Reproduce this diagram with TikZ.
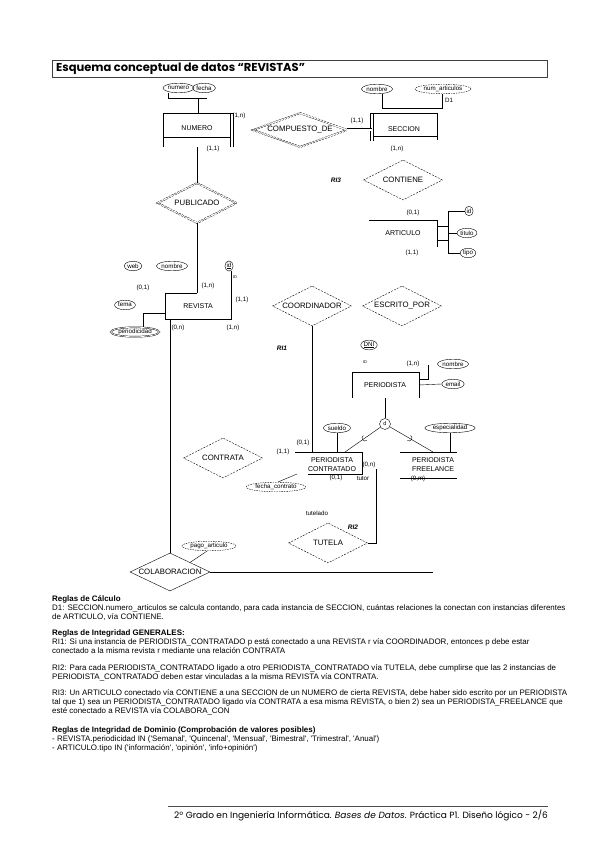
\documentclass[tikz,border=0pt]{standalone}
\usepackage{fontspec}
\setmainfont{Liberation Sans}
\newfontfamily\gothfont{Poppins}
\newfontfamily\arialfont{Liberation Sans}
\usetikzlibrary{positioning,shapes.geometric,calc}

\tikzset{
  ent/.style={font=\arialfont\fontsize{7}{9}\selectfont, align=center, inner sep=0pt},
  rel/.style={diamond, draw, dash pattern=on 2pt off 1.2pt, aspect=2, inner sep=0pt,
    minimum width=79pt, minimum height=40pt, font=\arialfont\fontsize{7.8}{8}\selectfont},
  weakrel/.style={rel, double, double distance=1pt},
  attr/.style={ellipse, draw, inner xsep=0.5pt, inner ysep=0.3pt, minimum height=9.5pt,
    font=\arialfont\fontsize{6.2}{6.2}\selectfont},
  derived/.style={attr, dash pattern=on 1.5pt off 1pt},
  multi/.style={attr, double, double distance=0.7pt},
  card/.style={font=\arialfont\fontsize{6.2}{6.5}\selectfont, inner sep=0pt},
  ri/.style={font=\arialfont\fontsize{6.5}{6.5}\selectfont\bfseries\itshape, inner sep=0pt},
  tag/.style={font=\arialfont\fontsize{4}{4}\selectfont, inner sep=0pt},
  rule/.style={anchor=west, inner sep=0pt, font=\arialfont\fontsize{7.95}{8}\selectfont},
  rulehead/.style={rule, font=\arialfont\fontsize{7.95}{8}\selectfont\bfseries},
}

\begin{document}
\begin{tikzpicture}[x=1pt,y=-1pt]
\useasboundingbox (0,0) rectangle (599,848);

% ============================
% TITLE
% ============================
\draw[black!75] (52,60) rectangle (547,77);
\node[anchor=west, inner sep=0pt, font=\gothfont\bfseries\fontsize{11.5}{12}\selectfont]
  (title) at (56,68.5) {Esquema conceptual de datos “REVISTAS”};

% ============================
% NUMERO / COMPUESTO_DE / SECCION
% ============================
\node[attr] (a-numero) at (178.5,88) {numero};
\node[attr] (a-fecha) at (204,88) {fecha};
\node[ent] (numero) at (197,128) {NUMERO};
\draw (163,147) -- (163,113) -- (233,113);
\draw (163,137) -- (230,137);
\draw (230,113) -- (230,147);
\draw (233,113) -- (233,147);
\draw (168,93) -- (168,98) -- (207,98);
\draw (198,98) -- (198,113);
\node[card] at (239,116) {(1,n)};
\node[card] at (213,149) {(1,1)};

\node[weakrel, aspect=2.8, minimum width=94pt, minimum height=34pt] (compuesto) at (300,130) {COMPUESTO\_DE};
\node[card] at (357,121) {(1,1)};

\node[attr] (a-nombre-s) at (377,89) {nombre};
\node[derived] (a-numart) at (443,89) {num\_articulos};
\node[ent] (seccion) at (404,129) {SECCION};
\coordinate (seccion-left) at (371.5,130);
\draw (370,113) -- (370,141);
\draw (373,113) -- (373,141);
\draw (370,113) -- (437,113) -- (437,140);
\draw (373,136) -- (437,136);
\draw (382,94) -- (382,108) -- (442,108) -- (442,94);
\node[card] at (449,100) {D1};
\node[card] at (397,149) {(1,n)};

\draw[double, double distance=2.2pt] (compuesto.east) -- (seccion-left);

% ============================
% PUBLICADO / CONTIENE / ARTICULO
% ============================
\node[weakrel] (publicado) at (197,203) {PUBLICADO};
\draw (197,147) -- (publicado.north);

\node[rel] (contiene) at (403,180) {CONTIENE};
\node[ri] at (336,180) {RI3};

\node[ent] (articulo) at (403,233) {ARTICULO};
\draw (369,220) -- (437,220) -- (437,247);
\node[card] at (413,213) {(0,1)};
\node[card] at (412,253) {(1,1)};
\node[attr] (a-id-art) at (469,211) {id};
\node[attr] (a-titulo) at (467,233) {titulo};
\node[attr] (a-tipo) at (468,253) {tipo};
\draw (437,226) -- (448,226);
\draw (437,240) -- (448,240);
\draw (a-id-art.west) -| (448,253) -- (a-tipo.west);
\draw (448,233) -- (a-titulo.west);

% ============================
% REVISTA
% ============================
\node[attr] (a-web) at (133,266) {web};
\node[attr] (a-nombre-r) at (172,266) {nombre};
\node[attr] (a-id-rev) at (229,266) {\underline{id}};
\node[tag] at (235,277) {ID};
\node[ent] (revista) at (198,306) {REVISTA};
\draw (165,320) -- (165,293) -- (197,293);
\draw (165,319.5) -- (231,319.5);
\draw (a-id-rev.south -| 231,0) -- (231,319.5);
\draw (publicado.south) -- (197,293);
\node[card] at (143,288) {(0,1)};
\node[card] at (208,286) {(1,n)};
\node[card] at (242,300) {(1,1)};
\node[card] at (178,328) {(0,n)};
\node[card] at (233,328) {(1,n)};
\node[attr] (a-tema) at (125,305) {tema};
\node[multi] (a-periodicidad) at (135,332) {periodicidad};
\draw (165,313) -- (143,313) -- (a-periodicidad.north -| 143,0);

% ============================
% COORDINADOR / ESCRITO_POR
% ============================
\node[rel] (coordinador) at (312,306) {COORDINADOR};
\node[rel] (escrito) at (402,306) {ESCRITO\_POR};
\node[ri] at (282,348) {RI1};

% ============================
% PERIODISTA + subclasses
% ============================
\node[attr] (a-dni) at (369,345) {\underline{DNI}};
\node[tag] at (365,362) {ID};
\node[ent] (periodista) at (385,385) {PERIODISTA};
\draw (352,398) -- (352,372) -- (419,372) -- (419,398);
\node[card] at (413,364) {(1,n)};
\node[attr] (a-nombre-p) at (453,364) {nombre};
\node[attr] (a-email) at (453,384) {email};
\draw (419,379) -- (428,379) -- (428,365);
\draw (419,385) -- (a-email.west);

\node[circle, draw, inner sep=0pt, minimum size=11pt, font=\arialfont\fontsize{5.5}{6}\selectfont] (disj) at (385,424) {d};
\draw (385,398) -- (disj.north);

\node[ent] (contratado) at (332,464.5) {PERIODISTA\\CONTRATADO};
\node[ent] (freelance) at (433,464.5) {PERIODISTA\\FREELANCE};
\coordinate (contratado-top) at (345,452);
\coordinate (freelance-top) at (433,452);
\draw (295,452) -- (362,452) -- (362,474) -- (308,474);
\draw (400,452) -- (457,452);
\draw (400,478) -- (457,478);
\draw (disj) -- (contratado-top);
\draw (disj) -- (freelance-top);

% subset marks
\coordinate (isa-l) at ($(disj)!0.5!(contratado-top)$);
\coordinate (isa-r) at ($(disj)!0.5!(freelance-top)$);
\draw (isa-l) ++(126:3pt) arc[start angle=126, end angle=306, radius=3pt];
\draw (isa-r) ++(239:3pt) arc[start angle=239, end angle=419, radius=3pt];

\node[attr] (a-sueldo) at (337,428) {sueldo};
\node[attr] (a-especialidad) at (450,428) {especialidad};
\draw (a-sueldo.south) -- (337,452);
\draw (a-especialidad.south) -- (450,452);

\draw (coordinador.south) -- (312,452);
\node[card] at (303,443) {(0,1)};
\node[card] at (283,452) {(1,1)};
\node[card] at (369,465) {(0,n)};
\node[card] at (336,478) {(0,1)};
\node[card] at (363,479) {tutor};
\node[card] at (418,479) {(0,m)};

% ============================
% CONTRATA / TUTELA / COLABORACION
% ============================
\node[rel] (contrata) at (223,458) {CONTRATA};
\node[derived] (a-fechacontrato) at (276,487) {fecha\_contrato};
\draw (a-fechacontrato.70) -- (297,474);

\node[rel] (tutela) at (328,543) {TUTELA};
\node[ri] at (353,527) {RI2};
\node[card] at (317,513) {tutelado};
\draw (376,469) -- (376,543) -- (tutela.east);

\node[rel, solid, minimum width=80pt, minimum height=38pt] (colaboracion) at (170,572) {COLABORACION};
\node[derived] (a-pago) at (209,546) {pago\_articulo};
\draw (170,320) -- (colaboracion.north);
\draw (a-pago.250) -- ($(colaboracion.north)!0.5!(colaboracion.east)$);
\draw (colaboracion.east) -- (433,572);

% ============================
% RULES
% ============================
\node[rulehead] at (52,599) {Reglas de Cálculo};
\node[rule] at (52,608) {D1: SECCION.numero\_articulos se calcula contando, para cada instancia de SECCION, cuántas relaciones la conectan con instancias diferentes};
\node[rule] at (52,617) {de ARTICULO, vía CONTIENE.};

\node[rulehead] at (52,633) {Reglas de Integridad GENERALES:};
\node[rule] at (52,642) {RI1: Si una instancia de PERIODISTA\_CONTRATADO p está conectado a una REVISTA r vía COORDINADOR, entonces p debe estar};
\node[rule] at (52,651) {conectado a la misma revista r mediante una relación CONTRATA};

\node[rule] at (52,668) {RI2: Para cada PERIODISTA\_CONTRATADO ligado a otro PERIODISTA\_CONTRATADO vía TUTELA, debe cumplirse que las 2 instancias de};
\node[rule] at (52,677) {PERIODISTA\_CONTRATADO deben estar vinculadas a la misma REVISTA vía CONTRATA.};

\node[rule] at (52,693) {RI3: Un ARTICULO conectado vía CONTIENE a una SECCION de un NUMERO de cierta REVISTA, debe haber sido escrito por un PERIODISTA};
\node[rule] at (52,702) {tal que 1) sea un PERIODISTA\_CONTRATADO ligado vía CONTRATA a esa misma REVISTA, o bien 2) sea un PERIODISTA\_FREELANCE que};
\node[rule] at (52,711) {esté conectado a REVISTA vía COLABORA\_CON};

\node[rulehead] at (52,730) {Reglas de Integridad de Dominio (Comprobación de valores posibles)};
\node[rule] at (52,739) {- REVISTA.periodicidad IN ('Semanal', 'Quincenal', 'Mensual', 'Bimestral', 'Trimestral', 'Anual')};
\node[rule] at (52,748) {- ARTICULO.tipo IN ('información', 'opinión', 'info+opinión')};

% ============================
% FOOTER
% ============================
\draw[black!70] (168,806) -- (548,806);
\node[anchor=east, inner sep=0pt, font=\gothfont\fontsize{9}{9}\selectfont] (footer) at (548,815)
  {2º Grado en Ingeniería Informática. \textit{Bases de Datos}. Práctica P1. Diseño lógico - 2/6};

\end{tikzpicture}
\end{document}
